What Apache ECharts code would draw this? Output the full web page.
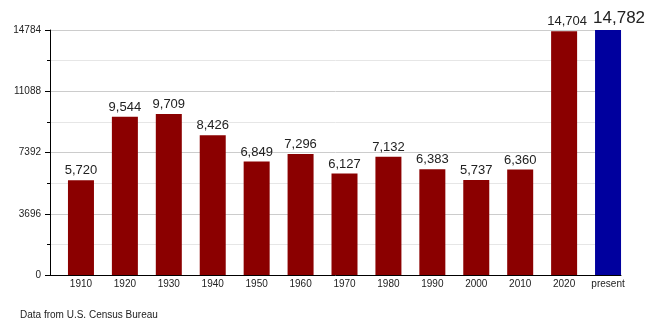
<!DOCTYPE html>
<html>
<head>
<meta charset="utf-8">
<script src="https://cdn.jsdelivr.net/npm/echarts@6/dist/echarts.min.js"></script>
<style>
  html, body { margin: 0; padding: 0; background: #fff; }
  #chart { width: 650px; height: 325px; }
</style>
</head>
<body>
<div id="chart"></div>
<script>
// Population by census year, plus the current estimate
const years = ['1910', '1920', '1930', '1940', '1950', '1960', '1970', '1980', '1990', '2000', '2010', '2020', 'present'];
const population = [5720, 9544, 9709, 8426, 6849, 7296, 6127, 7132, 6383, 5737, 6360, 14704, 14782];
const yTicks = [0, 3696, 7392, 11088, 14784];

const censusColor = '#8b0000';
const currentColor = '#00009e';
const lastIndex = years.length - 1;

// the last two labels are nudged right so they sit side by side without overlapping
const labelShift = (i) => (i === lastIndex ? 11 : (i === lastIndex - 1 ? 3 : 0));

const barData = population.map((v, i) => {
  const isCurrent = i === lastIndex;
  return {
    value: v,
    itemStyle: { color: isCurrent ? currentColor : censusColor },
    label: { fontSize: isCurrent ? 17 : 13, distance: 3, offset: [labelShift(i), 0] }
  };
});

const chart = echarts.init(document.getElementById('chart'), null, { renderer: 'canvas' });

const yMax = yTicks[yTicks.length - 1];
const yStep = yTicks[1] - yTicks[0];

chart.setOption({
  animation: false,
  textStyle: { fontFamily: 'Liberation Sans, Arial, sans-serif' },
  grid: [
    // frame: axes and gridlines
    { left: 50, right: 29, top: 30, bottom: 50 },
    // bars, each sitting at the right of its column
    { left: 59, right: 20, top: 30, bottom: 50 }
  ],
  xAxis: [
    {
      gridIndex: 0, type: 'category', data: years,
      axisLine: { lineStyle: { color: '#000', width: 1 } },
      axisTick: { show: false }, axisLabel: { show: false }
    },
    {
      gridIndex: 1, type: 'category', data: years,
      axisLine: { show: false }, axisTick: { show: false },
      axisLabel: { color: '#222', fontSize: 10, margin: 4, interval: 0 }
    }
  ],
  yAxis: [
    {
      gridIndex: 0, type: 'value', min: 0, max: yMax, interval: yStep,
      axisLine: { show: true, lineStyle: { color: '#000', width: 1 } },
      axisTick: { show: true, length: 5, lineStyle: { color: '#000' } },
      minorTick: { show: true, splitNumber: 2, length: 3, lineStyle: { color: '#000' } },
      axisLabel: { color: '#222', fontSize: 10, margin: 9, formatter: v => String(v) },
      splitLine: { show: true, lineStyle: { color: '#cccccc', width: 1 } },
      minorSplitLine: { show: true, lineStyle: { color: '#e6e6e6', width: 1 } }
    },
    {
      gridIndex: 1, type: 'value', min: 0, max: yMax, interval: yStep,
      show: false
    }
  ],
  series: [
    {
      type: 'bar', xAxisIndex: 1, yAxisIndex: 1,
      data: barData, barWidth: 26,
      label: {
        show: true, position: 'top', color: '#222',
        formatter: p => p.value.toLocaleString('en-US')
      }
    }
  ],
  graphic: [
    {
      type: 'text', left: 20, top: 310,
      style: { text: 'Data from U.S. Census Bureau', fill: '#222', fontSize: 10, fontFamily: 'Liberation Sans, Arial, sans-serif' }
    }
  ]
});
</script>
</body>
</html>
